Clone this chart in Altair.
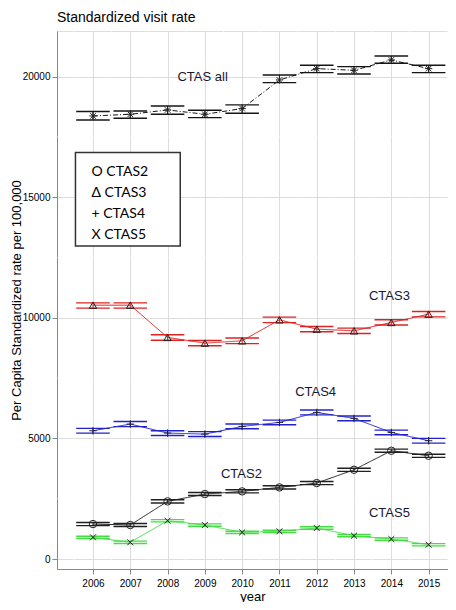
import altair as alt
import pandas as pd

years = list(range(2006, 2016))
series_names = ["CTAS all", "CTAS3", "CTAS4", "CTAS2", "CTAS5"]

ctas_all = [18368, 18438, 18617, 18438, 18674, 19860, 20330, 20260, 20690, 20330]
ctas_all_lo = [18200, 18273, 18438, 18300, 18479, 19751, 20165, 20109, 20551, 20165]
ctas_all_hi = [18550, 18575, 18782, 18604, 18826, 20066, 20468, 20413, 20854, 20468]

ctas3 = [10524, 10524, 9185, 8950, 9046, 9916, 9530, 9460, 9806, 10151]
ctas3_lo = [10400, 10400, 9070, 8840, 8930, 9800, 9420, 9350, 9700, 10040]
ctas3_hi = [10620, 10620, 9300, 9060, 9160, 10030, 9640, 9570, 9920, 10260]

ctas4 = [5317, 5594, 5221, 5179, 5497, 5663, 6078, 5830, 5248, 4903]
ctas4_lo = [5220, 5490, 5120, 5080, 5400, 5565, 5975, 5730, 5150, 4805]
ctas4_hi = [5415, 5700, 5320, 5280, 5600, 5760, 6180, 5930, 5345, 5000]

ctas2 = [1450, 1409, 2390, 2693, 2804, 2970, 3149, 3700, 4488, 4280]
ctas2_lo = [1385, 1345, 2325, 2630, 2740, 2905, 3085, 3635, 4425, 4215]
ctas2_hi = [1515, 1475, 2455, 2755, 2870, 3035, 3215, 3765, 4555, 4345]

ctas5 = [898, 692, 1588, 1409, 1105, 1146, 1284, 967, 829, 594]
ctas5_lo = [850, 645, 1540, 1360, 1055, 1095, 1235, 920, 780, 545]
ctas5_hi = [945, 740, 1635, 1455, 1150, 1195, 1335, 1015, 875, 640]

series_colors = ["#151515", "#dd2222", "#2222cc", "#202020", "#44dd44"]

y_ticks = [0, 5000, 10000, 15000, 20000]
y_minor = [2500, 7500, 12500, 17500]
x_minor = [2005.5, 2006.5, 2007.5, 2008.5, 2009.5, 2010.5, 2011.5, 2012.5, 2013.5, 2014.5, 2015.5]

label_text = ["CTAS all", "CTAS3", "CTAS4", "CTAS2", "CTAS5"]
label_x = [2008.94, 2013.95, 2011.97, 2009.98, 2013.95]
label_y = [19971, 10910, 6932, 3522, 1906]

legend_lines = ["O CTAS2", "\u0394 CTAS3", "+ CTAS4", "X CTAS5"]
legend_x = [2005.96, 2005.96, 2005.96, 2005.96]
legend_y = [16047, 15164, 14294, 13424]
box_x = [2005.53]
box_x2 = [2008.34]
box_y = [12981]
box_y2 = [16851]

SANS = "Liberation Sans, Arial"

rows = []
for name, v, lo, hi in [
    ("CTAS all", ctas_all, ctas_all_lo, ctas_all_hi),
    ("CTAS3", ctas3, ctas3_lo, ctas3_hi),
    ("CTAS4", ctas4, ctas4_lo, ctas4_hi),
    ("CTAS2", ctas2, ctas2_lo, ctas2_hi),
    ("CTAS5", ctas5, ctas5_lo, ctas5_hi),
]:
    for i, yr in enumerate(years):
        rows.append({"series": name, "year": yr, "value": v[i], "lo": lo[i], "hi": hi[i]})
df = pd.DataFrame(rows)

xscale = alt.Scale(domain=[2005.035, 2015.52], nice=False, zero=False)
yscale = alt.Scale(domain=[-414, 21890], nice=False, zero=False)
xaxis = alt.Axis(
    values=years, format="d", title="year", grid=True,
    labelFont=SANS, labelFontSize=10, labelPadding=4,
    titleFont=SANS, titleFontSize=13, titleFontWeight="normal", titleColor="black",
    titleY=31, titleBaseline="alphabetic",
)
yaxis = alt.Axis(
    values=y_ticks, format="d", title="Per Capita Standardized rate per 100,000", grid=True,
    labelFont=SANS, labelFontSize=10, labelPadding=2,
    titleFont=SANS, titleFontSize=13, titleFontWeight="normal", titleColor="black",
    titleX=-34, titleY=269, titleAngle=270, titleAlign="center", titleBaseline="bottom",
)


def X(field, **kw):
    return alt.X(field, type="quantitative", scale=xscale, axis=xaxis, **kw)


def Y(field, **kw):
    return alt.Y(field, type="quantitative", scale=yscale, axis=yaxis, **kw)


col = alt.Color("series:N", scale=alt.Scale(domain=series_names, range=series_colors), legend=None)

minor_x = alt.Chart(pd.DataFrame({"gx": x_minor})).mark_rule(color="white", strokeWidth=0.6).encode(x=X("gx"))
minor_y = alt.Chart(pd.DataFrame({"gy": y_minor})).mark_rule(color="white", strokeWidth=0.6).encode(y=Y("gy"))

base = alt.Chart(df)

lines = base.mark_line(strokeWidth=1).encode(
    x=X("year"),
    y=Y("value"),
    color=col,
    strokeDash=alt.StrokeDash(
        "series:N",
        scale=alt.Scale(domain=series_names, range=[[5, 2, 1, 2], [1, 0], [1, 0], [1, 0], [1, 0]]),
        legend=None,
    ),
    detail="series:N",
)

eb = base.transform_calculate(x0="datum.year - 0.45", x1="datum.year + 0.45")
eb_lo = eb.mark_rule(strokeWidth=1.4).encode(x=X("x0"), x2="x1:Q", y=Y("lo"), color=col)
eb_hi = eb.mark_rule(strokeWidth=1.4).encode(x=X("x0"), x2="x1:Q", y=Y("hi"), color=col)
eb_v = base.mark_rule(strokeWidth=1).encode(x=X("year"), y=Y("lo"), y2="hi:Q", color=col)

plus = "M-1,0L1,0M0,-1L0,1"
xmark = "M-0.8,-0.8L0.8,0.8M-0.8,0.8L0.8,-0.8"
star = "M-1,0L1,0M0,-1L0,1M-0.75,-0.75L0.75,0.75M-0.75,0.75L0.75,-0.75"

pts = base.mark_point(filled=False, strokeWidth=1, color="#222222", size=55, opacity=1).encode(
    x=X("year"),
    y=Y("value"),
    shape=alt.Shape(
        "series:N",
        scale=alt.Scale(domain=series_names, range=[star, "triangle-up", plus, "circle", xmark]),
        legend=None,
    ),
)

labels = alt.Chart(pd.DataFrame({"t": label_text, "lx": label_x, "ly": label_y})).mark_text(
    font=SANS, fontSize=13, color="#161630", align="center", baseline="middle"
).encode(x=X("lx"), y=Y("ly"), text="t:N")

box = alt.Chart(pd.DataFrame({"bx": box_x, "bx2": box_x2, "by": box_y, "by2": box_y2})).mark_rect(
    fill="white", stroke="#333333", strokeWidth=1.5
).encode(x=X("bx"), x2="bx2:Q", y=Y("by"), y2="by2:Q")

legend_txt = alt.Chart(pd.DataFrame({"t": legend_lines, "lx": legend_x, "ly": legend_y})).mark_text(
    font="Lato, Open Sans", fontSize=14, color="black", align="left", baseline="middle"
).encode(x=X("lx"), y=Y("ly"), text="t:N")

chart = alt.layer(
    minor_x, minor_y, lines, eb_lo, eb_hi, eb_v, pts, labels, box, legend_txt
).properties(
    width=391,
    height=538,
    title=alt.TitleParams(
        "Standardized visit rate", anchor="start", frame="group", font=SANS,
        fontSize=14, fontWeight="normal", color="black", offset=6,
    ),
    padding={"left": 49, "top": 23, "right": 0, "bottom": 33},
    autosize=alt.AutoSizeParams(type="none"),
).configure_view(
    fill="#EBEBEB", stroke=None
).configure_axis(
    domain=False,
    tickColor="#333333",
    tickSize=3,
    tickWidth=1,
    gridColor="white",
    gridWidth=1.1,
    labelColor="#4D4D4D",
).configure(background="white")

chart.save("out.html", embed_options={"renderer": "svg", "actions": False})
